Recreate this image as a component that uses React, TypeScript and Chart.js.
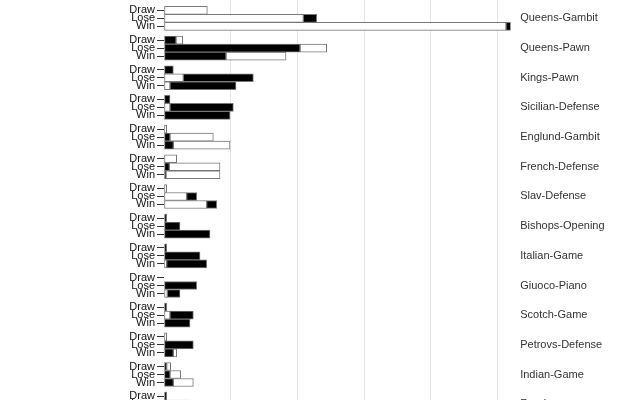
import { useEffect, useRef } from 'react';
import { Chart, registerables } from 'chart.js';

Chart.register(...registerables);

const openings = [
  'Queens-Gambit', 'Queens-Pawn', 'Kings-Pawn', 'Sicilian-Defense', 'Englund-Gambit',
  'French-Defense', 'Slav-Defense', 'Bishops-Opening', 'Italian-Game', 'Giuoco-Piano',
  'Scotch-Game', 'Petrovs-Defense', 'Indian-Game', 'Ruy-Lopez',
];
const outcomes = ['Draw', 'Lose', 'Win'];

// per opening: [Draw, Lose, Win]
const whiteBefore: (number | null)[][] = [
  [65, 209, 513], [null, null, null], [null, 29, 9], [null, 9, null], [4, null, null],
  [19, null, null], [4, 34, 64], [null, null, null], [null, null, 4], [null, null, 5],
  [null, 9, null], [4, null, null], [null, null, null], [null, null, null],
];
const blackPart: (number | null)[][] = [
  [null, 20, 7], [18, 204, 93], [14, 105, 99], [9, 95, 99], [null, 9, 14],
  [null, 8, 3], [null, 15, 15], [4, 24, 69], [4, 54, 60], [null, 49, 19],
  [4, 35, 39], [null, 44, 14], [4, 9, 14], [4, 10, 12],
];
const whiteAfter: (number | null)[][] = [
  [null, null, null], [10, 40, 90], [null, null, null], [null, null, null], [null, 65, 85],
  [null, 76, 81], [null, null, null], [null, null, null], [null, null, null], [null, null, null],
  [null, null, null], [null, null, 5], [6, 16, 30], [null, 29, 20],
];

const GROUP = 3.71;
const ROW_PX = 8;
const FONT = 'Liberation Sans, Arial, sans-serif';

const yMin = -1.3;
const yMax = (openings.length - 1) * GROUP + 2.6;
const CHART_H = Math.round((yMax - yMin) * ROW_PX);

export default function App() {
  const ref = useRef<HTMLCanvasElement | null>(null);

  useEffect(() => {
    document.body.style.margin = '0';
    const canvas = ref.current;
    if (!canvas) return;

    const rowPos: number[] = [];
    openings.forEach((_, g) => outcomes.forEach((__, r) => rowPos.push(g * GROUP + r)));
    const groupPos = openings.map((_, g) => g * GROUP + 1);

    const toPoints = (arr: (number | null)[][]) => {
      const pts: { x: number; y: number }[] = [];
      arr.forEach((triple, g) =>
        triple.forEach((v, r) => {
          if (v !== null) pts.push({ x: v, y: g * GROUP + r });
        })
      );
      return pts;
    };

    const common = {
      borderColor: '#777',
      borderWidth: 1,
      borderSkipped: false as const,
      barThickness: 8,
      stack: 's',
    };

    const noPad = (s: any) => {
      s.paddingTop = 0;
      s.paddingBottom = 0;
      s.paddingLeft = 0;
      s.paddingRight = 0;
    };

    const chart = new Chart(canvas, {
      type: 'bar',
      data: {
        datasets: [
          { ...common, label: 'white-first', data: toPoints(whiteBefore), backgroundColor: '#fff' },
          { ...common, label: 'black', data: toPoints(blackPart), backgroundColor: '#000' },
          { ...common, label: 'white-after', data: toPoints(whiteAfter), backgroundColor: '#fff' },
        ],
      },
      options: {
        indexAxis: 'y',
        animation: false,
        responsive: true,
        maintainAspectRatio: false,
        layout: { padding: 0 },
        plugins: { legend: { display: false }, tooltip: { enabled: false }, title: { display: false } },
        scales: {
          x: {
            type: 'linear',
            stacked: true,
            min: 0,
            max: 520,
            position: 'bottom',
            ticks: { display: false, stepSize: 100, includeBounds: false },
            border: { display: false },
            grid: {
              drawTicks: false,
              color: (ctx: any) =>
                ctx.tick && ctx.tick.value > 0 && ctx.tick.value % 100 === 0 ? '#e4e4e4' : 'rgba(0,0,0,0)',
            },
            afterFit: (s: any) => {
              s.height = 0;
              noPad(s);
            },
          },
          y: {
            type: 'linear',
            stacked: true,
            reverse: true,
            offset: false,
            min: yMin,
            max: yMax,
            position: 'left',
            afterBuildTicks: (s: any) => {
              s.ticks = rowPos.map((v) => ({ value: v }));
            },
            ticks: {
              autoSkip: false,
              padding: 2,
              color: '#111',
              font: { family: FONT, size: 11 },
              callback: (_v: any, i: number) => outcomes[i % 3],
            },
            border: { display: false },
            grid: { offset: false, drawOnChartArea: false, drawTicks: true, tickLength: 7, color: '#333' },
            afterFit: (s: any) => {
              s.width = 164;
              noPad(s);
            },
          },
          y2: {
            type: 'linear',
            reverse: true,
            offset: false,
            min: yMin,
            max: yMax,
            position: 'right',
            afterBuildTicks: (s: any) => {
              s.ticks = groupPos.map((v) => ({ value: v }));
            },
            ticks: {
              autoSkip: false,
              padding: 9.5,
              color: '#333',
              font: { family: FONT, size: 11 },
              callback: (_v: any, i: number) => openings[i],
            },
            border: { display: false },
            grid: { display: false, drawOnChartArea: false, drawTicks: false, tickLength: 0 },
            afterFit: (s: any) => {
              s.width = 129.3;
              noPad(s);
            },
          },
        },
      },
    });

    return () => chart.destroy();
  }, []);

  return (
    <div style={{ position: 'relative', width: 640, height: CHART_H }}>
      <canvas ref={ref} />
    </div>
  );
}
